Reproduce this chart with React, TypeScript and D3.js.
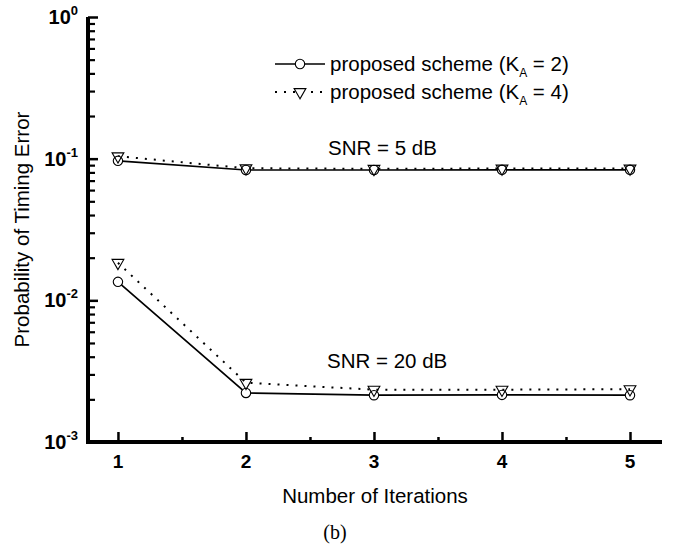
import React, { useEffect, useRef } from 'react';
import * as d3 from 'd3';

// iterations on the x axis
const iterations = [1, 2, 3, 4, 5];
// probability of timing error
const ka2Snr5 = [0.0965, 0.0832, 0.0832, 0.0834, 0.0834];
const ka4Snr5 = [0.104, 0.0856, 0.0848, 0.0852, 0.0852];
const ka2Snr20 = [0.0135, 0.00222, 0.00214, 0.00215, 0.00214];
const ka4Snr20 = [0.0184, 0.00262, 0.00234, 0.00234, 0.00236];

const yTickExponents = [0, -1, -2, -3];
const xTickValues = [1, 2, 3, 4, 5];
const xMinorValues = [1.5, 2.5, 3.5, 4.5];

const legendKa = ['2', '4'];
const snrLabels = ['SNR = 5 dB', 'SNR = 20 dB'];

const App = () => {
    const svgRef = useRef<SVGSVGElement>(null);

    useEffect(() => {
        const svg = d3.select(svgRef.current);
        svg.selectAll('*').remove();

        const sans = 'Arial, "Liberation Sans", sans-serif';
        const x = d3.scaleLinear().domain([0.766, 5.25]).range([88, 662]);
        const y = d3.scaleLog().domain([1e-3, 1]).range([442, 17]);
        const x0 = x.range()[0];
        const y0 = y.range()[0];

        // y axis ticks (inward)
        const minors: number[] = [];
        [-3, -2, -1].forEach(e => {
            for (let m = 2; m <= 9; m++) minors.push(m * Math.pow(10, e));
        });
        svg.append('g')
            .attr('transform', `translate(${x0},0)`)
            .call(d3.axisRight(y).tickValues(yTickExponents.map(e => Math.pow(10, e))).tickSize(10).tickFormat(() => ''))
            .call(g => g.select('.domain').remove())
            .call(g => g.selectAll('line').attr('stroke', '#000').attr('stroke-width', 2.5));
        svg.append('g')
            .attr('transform', `translate(${x0},0)`)
            .call(d3.axisRight(y).tickValues(minors).tickSize(7).tickFormat(() => ''))
            .call(g => g.select('.domain').remove())
            .call(g => g.selectAll('line').attr('stroke', '#000').attr('stroke-width', 2.2));

        // x axis ticks (inward)
        svg.append('g')
            .attr('transform', `translate(0,${y0})`)
            .call(d3.axisTop(x).tickValues(xTickValues).tickSize(10).tickFormat(() => ''))
            .call(g => g.select('.domain').remove())
            .call(g => g.selectAll('line').attr('stroke', '#000').attr('stroke-width', 2.5));
        svg.append('g')
            .attr('transform', `translate(0,${y0})`)
            .call(d3.axisTop(x).tickValues(xMinorValues).tickSize(5).tickFormat(() => ''))
            .call(g => g.select('.domain').remove())
            .call(g => g.selectAll('line').attr('stroke', '#000').attr('stroke-width', 2.5));

        // axis lines
        svg.append('path')
            .attr('d', `M${x0},${y.range()[1]}V${y0}H${x.range()[1]}`)
            .attr('fill', 'none')
            .attr('stroke', '#000')
            .attr('stroke-width', 4);

        // y tick labels
        yTickExponents.forEach(e => {
            const t = svg.append('text')
                .attr('x', x0 - 10)
                .attr('y', y(Math.pow(10, e)) + 7)
                .attr('text-anchor', 'end')
                .attr('font-family', sans)
                .attr('font-weight', 'bold')
                .attr('font-size', 20);
            t.append('tspan').text('10');
            t.append('tspan').attr('dy', -9).attr('font-size', 13).text(String(e));
        });

        // x tick labels
        svg.selectAll('.xlab')
            .data(xTickValues)
            .enter()
            .append('text')
            .attr('x', d => x(d))
            .attr('y', 468)
            .attr('text-anchor', 'middle')
            .attr('font-family', sans)
            .attr('font-weight', 'bold')
            .attr('font-size', 19)
            .text(d => d);

        // axis titles
        svg.append('text')
            .attr('x', (x.range()[0] + x.range()[1]) / 2)
            .attr('y', 503)
            .attr('text-anchor', 'middle')
            .attr('font-family', sans)
            .attr('font-size', 20.5)
            .text('Number of Iterations');
        svg.append('text')
            .attr('transform', `translate(29,${(y.range()[0] + y.range()[1]) / 2}) rotate(-90)`)
            .attr('text-anchor', 'middle')
            .attr('font-family', sans)
            .attr('font-size', 20.5)
            .text('Probability of Timing Error');
        svg.append('text')
            .attr('x', 335)
            .attr('y', 539)
            .attr('text-anchor', 'middle')
            .attr('font-family', '"Times New Roman", "Liberation Serif", serif')
            .attr('font-size', 20)
            .text('(b)');

        // series
        const line = d3.line<number>()
            .x((_, i) => x(iterations[i]))
            .y(d => y(d));
        const series = [
            { values: ka2Snr5, dash: null, marker: 'circle' },
            { values: ka2Snr20, dash: null, marker: 'circle' },
            { values: ka4Snr5, dash: '2,7', marker: 'triangle' },
            { values: ka4Snr20, dash: '2,7', marker: 'triangle' },
        ];
        const tri = d3.symbol().type(d3.symbolTriangle).size(60)();

        series.forEach(s => {
            svg.append('path')
                .attr('d', line(s.values))
                .attr('fill', 'none')
                .attr('stroke', '#000')
                .attr('stroke-width', s.dash ? 2 : 1.7)
                .attr('stroke-dasharray', s.dash);
        });
        series.forEach(s => {
            if (s.marker === 'circle') {
                svg.selectAll(null)
                    .data(s.values)
                    .enter()
                    .append('circle')
                    .attr('cx', (_, i) => x(iterations[i]))
                    .attr('cy', d => y(d))
                    .attr('r', 4.7)
                    .attr('fill', '#fff')
                    .attr('stroke', '#000')
                    .attr('stroke-width', 1.1);
            } else {
                svg.selectAll(null)
                    .data(s.values)
                    .enter()
                    .append('path')
                    .attr('d', tri)
                    .attr('transform', (d, i) => `translate(${x(iterations[i])},${y(d)}) rotate(180)`)
                    .attr('fill', 'none')
                    .attr('stroke', '#000')
                    .attr('stroke-width', 1.1);
            }
        });

        // legend
        legendKa.forEach((k, i) => {
            const ly = 64 + i * 28;
            svg.append('line')
                .attr('x1', 275).attr('x2', 325)
                .attr('y1', ly).attr('y2', ly)
                .attr('stroke', '#000')
                .attr('stroke-width', i === 0 ? 1.7 : 2)
                .attr('stroke-dasharray', i === 0 ? null : '2,7');
            if (i === 0) {
                svg.append('circle').attr('cx', 300).attr('cy', ly).attr('r', 4.7)
                    .attr('fill', '#fff').attr('stroke', '#000').attr('stroke-width', 1.1);
            } else {
                svg.append('path').attr('d', tri)
                    .attr('transform', `translate(300,${ly}) rotate(180)`)
                    .attr('fill', '#fff').attr('stroke', '#000').attr('stroke-width', 1.1);
            }
            const t = svg.append('text')
                .attr('x', 330)
                .attr('y', ly + 7)
                .attr('font-family', sans)
                .attr('font-size', 20.5);
            t.append('tspan').text('proposed scheme (K');
            t.append('tspan').attr('dy', 6).attr('font-size', 12).text('A');
            t.append('tspan').attr('dy', -6).text(` = ${k})`);
        });

        // SNR annotations
        svg.append('text')
            .attr('x', 328).attr('y', 155)
            .attr('font-family', sans).attr('font-size', 20.5)
            .text(snrLabels[0]);
        svg.append('text')
            .attr('x', 327).attr('y', 368)
            .attr('font-family', sans).attr('font-size', 20.5)
            .text(snrLabels[1]);
    }, []);

    return (
        <div style={{ position: 'absolute', left: 0, top: 0 }}>
            <svg ref={svgRef} width={679} height={548}></svg>
        </div>
    );
};

export default App;
